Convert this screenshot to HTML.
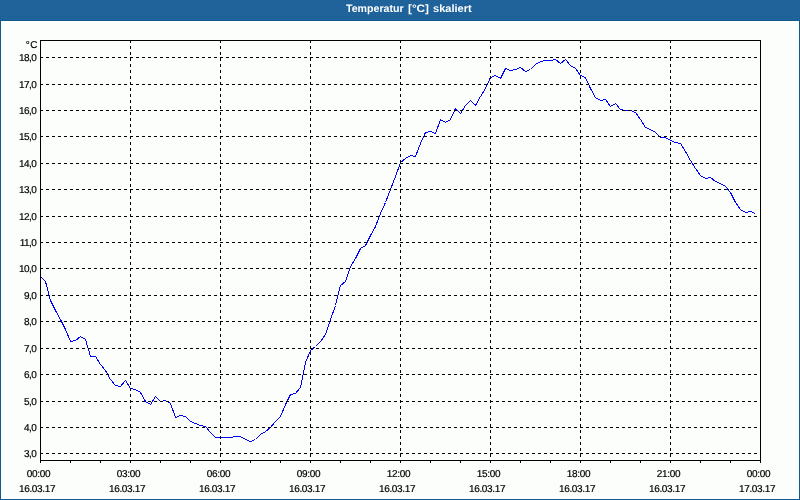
<!DOCTYPE html>
<html lang="de"><head><meta charset="utf-8"><title>Temperatur [°C] skaliert</title>
<style>
html,body{margin:0;padding:0;background:#fcfefc;}
body{width:800px;height:500px;overflow:hidden;position:relative;font-family:"Liberation Sans",sans-serif;}
svg{position:absolute;left:0;top:0;display:block}
.t{text-rendering:geometricPrecision;font-family:"Liberation Sans",sans-serif;font-size:10px;fill:#000;letter-spacing:-0.35px;stroke:#000;stroke-width:0.2px}
.title{font-family:"Liberation Sans",sans-serif;font-weight:bold;font-size:10.8px;fill:#fff;text-rendering:geometricPrecision}
</style></head><body>
<svg width="800" height="500" viewBox="0 0 800 500">
<rect x="0" y="0" width="800" height="500" fill="#0f5890"/>
<defs><pattern id="dz" x="0" y="0" width="4" height="4" patternUnits="userSpaceOnUse"><rect x="2" y="1" width="1" height="1" fill="#2465b2"/><rect x="0" y="3" width="1" height="1" fill="#2465b2"/></pattern></defs>
<rect x="0" y="0" width="800" height="20" fill="#1e6298"/>
<rect x="0" y="0" width="800" height="20" fill="url(#dz)" shape-rendering="crispEdges"/>
<rect x="1" y="21" width="798" height="478" fill="#fcfefc"/>
<text class="title" y="12"><tspan x="346" textLength="57.6" lengthAdjust="spacingAndGlyphs">Temperatur</tspan> <tspan x="408" textLength="21" lengthAdjust="spacingAndGlyphs">[°C]</tspan> <tspan x="433" textLength="38.6" lengthAdjust="spacingAndGlyphs">skaliert</tspan></text>
<g shape-rendering="crispEdges" fill="none" stroke="#000" stroke-width="1">

<polyline stroke="#0000ff" points="40.5,276.5 45.5,281.5 50.5,300.5 55.5,310.5 60.5,319.5 65.5,329.5 70.5,341.5 75.5,340.5 80.5,336.5 85.5,339.5 90.5,356.5 95.5,356.5 100.5,364.5 105.5,370.5 110.5,379.5 115.5,385.5 120.5,386.5 125.5,380.5 130.5,388.5 135.5,389.5 140.5,392.5 145.5,401.5 150.5,404.5 155.5,396.5 160.5,401.5 165.5,400.5 170.5,403.5 175.5,417.5 180.5,415.5 185.5,416.5 190.5,421.5 195.5,423.5 200.5,425.5 205.5,426.5 210.5,432.5 215.5,437.5 220.5,437.5 225.5,437.5 230.5,437.5 235.5,436.5 240.5,436.5 245.5,439.5 250.5,441.5 255.5,439.5 260.5,434.5 265.5,431.5 270.5,427.5 275.5,421.5 280.5,416.5 285.5,404.5 290.5,394.5 295.5,393.5 300.5,387.5 305.5,362.5 310.5,350.5 315.5,346.5 320.5,341.5 325.5,334.5 330.5,319.5 335.5,305.5 340.5,285.5 345.5,281.5 350.5,266.5 355.5,258.5 360.5,248.5 365.5,245.5 370.5,235.5 375.5,226.5 380.5,213.5 385.5,202.5 390.5,189.5 395.5,176.5 400.5,162.5 405.5,158.5 410.5,155.5 415.5,156.5 420.5,143.5 425.5,132.5 430.5,131.5 435.5,133.5 440.5,119.5 445.5,122.5 450.5,119.5 455.5,108.5 460.5,113.5 465.5,105.5 470.5,100.5 475.5,105.5 480.5,96.5 485.5,88.5 490.5,77.5 495.5,75.5 500.5,78.5 505.5,68.5 510.5,70.5 515.5,69.5 520.5,67.5 525.5,71.5 530.5,69.5 535.5,64.5 540.5,61.5 545.5,60.5 550.5,60.5 555.5,59.5 560.5,63.5 565.5,59.5 570.5,65.5 575.5,68.5 580.5,75.5 585.5,77.5 590.5,88.5 595.5,97.5 600.5,100.5 605.5,99.5 610.5,106.5 615.5,103.5 620.5,109.5 625.5,110.5 630.5,110.5 635.5,112.5 640.5,119.5 645.5,127.5 650.5,129.5 655.5,132.5 660.5,137.5 665.5,137.5 670.5,140.5 675.5,142.5 680.5,143.5 685.5,151.5 690.5,160.5 695.5,168.5 700.5,175.5 705.5,178.5 710.5,177.5 715.5,181.5 720.5,183.5 725.5,186.5 730.5,192.5 735.5,202.5 740.5,209.5 745.5,212.5 750.5,211.5 755.5,213.5"/>
<g stroke-dasharray="3 3">
<line x1="40" y1="57.5" x2="760" y2="57.5"/>
<line x1="40" y1="84.5" x2="760" y2="84.5"/>
<line x1="40" y1="110.5" x2="760" y2="110.5"/>
<line x1="40" y1="136.5" x2="760" y2="136.5"/>
<line x1="40" y1="163.5" x2="760" y2="163.5"/>
<line x1="40" y1="189.5" x2="760" y2="189.5"/>
<line x1="40" y1="216.5" x2="760" y2="216.5"/>
<line x1="40" y1="242.5" x2="760" y2="242.5"/>
<line x1="40" y1="268.5" x2="760" y2="268.5"/>
<line x1="40" y1="295.5" x2="760" y2="295.5"/>
<line x1="40" y1="321.5" x2="760" y2="321.5"/>
<line x1="40" y1="348.5" x2="760" y2="348.5"/>
<line x1="40" y1="374.5" x2="760" y2="374.5"/>
<line x1="40" y1="401.5" x2="760" y2="401.5"/>
<line x1="40" y1="427.5" x2="760" y2="427.5"/>
<line x1="40" y1="453.5" x2="760" y2="453.5"/>
<line x1="130.5" y1="40" x2="130.5" y2="460"/>
<line x1="220.5" y1="40" x2="220.5" y2="460"/>
<line x1="310.5" y1="40" x2="310.5" y2="460"/>
<line x1="400.5" y1="40" x2="400.5" y2="460"/>
<line x1="490.5" y1="40" x2="490.5" y2="460"/>
<line x1="580.5" y1="40" x2="580.5" y2="460"/>
<line x1="670.5" y1="40" x2="670.5" y2="460"/>
</g>
<line x1="40.5" y1="461" x2="40.5" y2="463"/>
<line x1="70.5" y1="461" x2="70.5" y2="463"/>
<line x1="100.5" y1="461" x2="100.5" y2="463"/>
<line x1="130.5" y1="461" x2="130.5" y2="463"/>
<line x1="160.5" y1="461" x2="160.5" y2="463"/>
<line x1="190.5" y1="461" x2="190.5" y2="463"/>
<line x1="220.5" y1="461" x2="220.5" y2="463"/>
<line x1="250.5" y1="461" x2="250.5" y2="463"/>
<line x1="280.5" y1="461" x2="280.5" y2="463"/>
<line x1="310.5" y1="461" x2="310.5" y2="463"/>
<line x1="340.5" y1="461" x2="340.5" y2="463"/>
<line x1="370.5" y1="461" x2="370.5" y2="463"/>
<line x1="400.5" y1="461" x2="400.5" y2="463"/>
<line x1="430.5" y1="461" x2="430.5" y2="463"/>
<line x1="460.5" y1="461" x2="460.5" y2="463"/>
<line x1="490.5" y1="461" x2="490.5" y2="463"/>
<line x1="520.5" y1="461" x2="520.5" y2="463"/>
<line x1="550.5" y1="461" x2="550.5" y2="463"/>
<line x1="580.5" y1="461" x2="580.5" y2="463"/>
<line x1="610.5" y1="461" x2="610.5" y2="463"/>
<line x1="640.5" y1="461" x2="640.5" y2="463"/>
<line x1="670.5" y1="461" x2="670.5" y2="463"/>
<line x1="700.5" y1="461" x2="700.5" y2="463"/>
<line x1="730.5" y1="461" x2="730.5" y2="463"/>
<line x1="760.5" y1="461" x2="760.5" y2="463"/>
<rect x="40.5" y="40.5" width="720" height="420"/>
</g>
<g class="t" text-anchor="end" style="letter-spacing:-0.6px">
<text x="37.9" y="48" style="letter-spacing:0.5px">°C</text>
<text x="36.2" y="61">18,0</text>
<text x="36.2" y="88">17,0</text>
<text x="36.2" y="114">16,0</text>
<text x="36.2" y="140">15,0</text>
<text x="36.2" y="167">14,0</text>
<text x="36.2" y="193">13,0</text>
<text x="36.2" y="220">12,0</text>
<text x="36.2" y="246">11,0</text>
<text x="36.2" y="272">10,0</text>
<text x="36.2" y="299">9,0</text>
<text x="36.2" y="325">8,0</text>
<text x="36.2" y="352">7,0</text>
<text x="36.2" y="378">6,0</text>
<text x="36.2" y="405">5,0</text>
<text x="36.2" y="431">4,0</text>
<text x="36.2" y="457">3,0</text>
</g>
<g class="t" text-anchor="middle">
<text x="38.5" y="477">00:00</text>
<text x="37.1" y="492">16.03.17</text>
<text x="128.5" y="477">03:00</text>
<text x="127.1" y="492">16.03.17</text>
<text x="218.5" y="477">06:00</text>
<text x="217.1" y="492">16.03.17</text>
<text x="308.5" y="477">09:00</text>
<text x="307.1" y="492">16.03.17</text>
<text x="398.5" y="477">12:00</text>
<text x="397.1" y="492">16.03.17</text>
<text x="488.5" y="477">15:00</text>
<text x="487.1" y="492">16.03.17</text>
<text x="578.5" y="477">18:00</text>
<text x="577.1" y="492">16.03.17</text>
<text x="668.5" y="477">21:00</text>
<text x="667.1" y="492">16.03.17</text>
<text x="758.5" y="477">00:00</text>
<text x="757.1" y="492">17.03.17</text>
</g>
</svg></body></html>
